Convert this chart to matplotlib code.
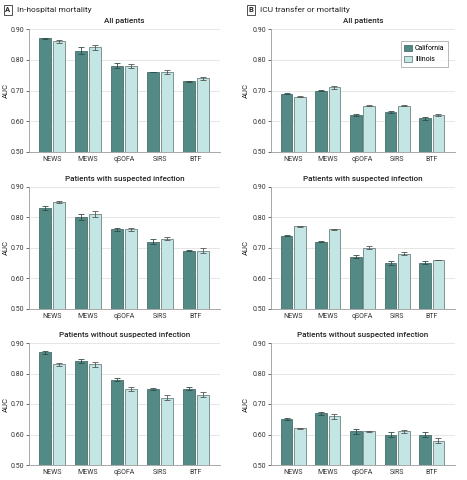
import matplotlib
matplotlib.use("Agg")
import matplotlib.pyplot as plt
import numpy as np

plt.rcParams['font.family'] = ['Roboto', 'DejaVu Sans']

categories = ["NEWS", "MEWS", "qSOFA", "SIRS", "BTF"]
series_names = ["California", "Illinois"]

# Panel A: In-hospital mortality
a_all_cal = [0.87, 0.83, 0.78, 0.76, 0.73]
a_all_ill = [0.86, 0.84, 0.78, 0.76, 0.74]
a_all_cal_err = [0.002, 0.010, 0.008, 0.001, 0.001]
a_all_ill_err = [0.005, 0.008, 0.006, 0.006, 0.005]

a_inf_cal = [0.83, 0.80, 0.76, 0.72, 0.69]
a_inf_ill = [0.85, 0.81, 0.76, 0.73, 0.69]
a_inf_cal_err = [0.008, 0.010, 0.006, 0.008, 0.001]
a_inf_ill_err = [0.004, 0.010, 0.006, 0.004, 0.008]

a_noinf_cal = [0.87, 0.84, 0.78, 0.75, 0.75]
a_noinf_ill = [0.83, 0.83, 0.75, 0.72, 0.73]
a_noinf_cal_err = [0.005, 0.006, 0.004, 0.004, 0.005]
a_noinf_ill_err = [0.006, 0.008, 0.006, 0.008, 0.008]

# Panel B: ICU transfer or mortality
b_all_cal = [0.69, 0.70, 0.62, 0.63, 0.61]
b_all_ill = [0.68, 0.71, 0.65, 0.65, 0.62]
b_all_cal_err = [0.002, 0.002, 0.002, 0.002, 0.005]
b_all_ill_err = [0.001, 0.005, 0.002, 0.002, 0.002]

b_inf_cal = [0.74, 0.72, 0.67, 0.65, 0.65]
b_inf_ill = [0.77, 0.76, 0.70, 0.68, 0.66]
b_inf_cal_err = [0.001, 0.001, 0.005, 0.008, 0.005]
b_inf_ill_err = [0.002, 0.002, 0.005, 0.005, 0.001]

b_noinf_cal = [0.65, 0.67, 0.61, 0.60, 0.60]
b_noinf_ill = [0.62, 0.66, 0.61, 0.61, 0.58]
b_noinf_cal_err = [0.004, 0.005, 0.008, 0.008, 0.008]
b_noinf_ill_err = [0.001, 0.008, 0.002, 0.006, 0.008]

subtitles = ["All patients", "Patients with suspected infection",
             "Patients without suspected infection"]
yticks = [0.50, 0.60, 0.70, 0.80, 0.90]
ytick_labels = ["0.50", "0.60", "0.70", "0.80", "0.90"]

panels = {
    "A": [(a_all_cal, a_all_ill, a_all_cal_err, a_all_ill_err),
          (a_inf_cal, a_inf_ill, a_inf_cal_err, a_inf_ill_err),
          (a_noinf_cal, a_noinf_ill, a_noinf_cal_err, a_noinf_ill_err)],
    "B": [(b_all_cal, b_all_ill, b_all_cal_err, b_all_ill_err),
          (b_inf_cal, b_inf_ill, b_inf_cal_err, b_inf_ill_err),
          (b_noinf_cal, b_noinf_ill, b_noinf_cal_err, b_noinf_ill_err)],
}

c_dark = "#548a85"
c_light = "#c3e5e4"
edge = "#6e8583"
spine_c = "#9a9a9a"

fig = plt.figure(figsize=(4.67, 4.8), dpi=100)

col_x = {"A": (29 / 467, 191 / 467), "B": (271 / 467, 184 / 467)}
label_x = {"A": (9 - 29) / 191, "B": (249 - 271) / 184}
row_tb = [(29, 152), (186.7, 308.7), (343, 465)]

x = np.arange(len(categories))
w = 0.335
off = 0.19

for key in ["A", "B"]:
    x0, wd = col_x[key]
    for r, (top, bot) in enumerate(row_tb):
        ax = fig.add_axes([x0, 1 - bot / 480, wd, (bot - top) / 480])
        cal, ill, ce, ie = panels[key][r]
        ax.set_axisbelow(True)
        ax.yaxis.grid(True, color="#e6e6e6", linewidth=0.7)
        ax.bar(x - off, cal, w, bottom=0, color=c_dark, edgecolor="#4a6f6b",
               linewidth=0.6, label=series_names[0])
        ax.bar(x + off, ill, w, bottom=0, color=c_light, edgecolor=edge,
               linewidth=0.6, label=series_names[1])
        ax.errorbar(x - off, cal, yerr=ce, fmt="none", ecolor="#2f4d4a",
                    elinewidth=0.6, capsize=2.2, capthick=0.6)
        ax.errorbar(x + off, ill, yerr=ie, fmt="none", ecolor="#555555",
                    elinewidth=0.6, capsize=2.2, capthick=0.6)
        ax.set_ylim(0.5, 0.9)
        ax.set_xlim(-0.64, 4.67)
        ax.set_yticks(yticks)
        ax.set_yticklabels(ytick_labels)
        ax.set_xticks(x)
        ax.set_xticklabels(categories)
        ax.tick_params(axis="both", labelsize=5, colors="#333333",
                       length=2, width=0.5, pad=1.5)
        ax.tick_params(axis="x", length=0, pad=3)
        for s in ["top", "right"]:
            ax.spines[s].set_visible(False)
        for s in ["left", "bottom"]:
            ax.spines[s].set_color(spine_c)
            ax.spines[s].set_linewidth(0.6)
        ax.set_ylabel("AUC", fontsize=5.5, color="#222222")
        ax.yaxis.set_label_coords(label_x[key], 0.5)
        ax.set_title(subtitles[r], fontsize=5.8, color="#222222", pad=4,
                     fontweight="medium")
        if key == "B" and r == 0:
            leg = ax.legend(loc="upper right", bbox_to_anchor=(0.98, 0.93),
                            fontsize=5, frameon=True, fancybox=False,
                            handlelength=1.1, handleheight=1.1,
                            borderpad=0.5, labelspacing=0.5,
                            handletextpad=0.4)
            leg.get_frame().set_edgecolor("#999999")
            leg.get_frame().set_linewidth(0.6)

fig.text(8 / 467, 1 - 10 / 480, "A", fontsize=5.5, ha="center", va="center",
         fontweight="bold", color="#222222",
         bbox=dict(boxstyle="square,pad=0.25", fc="white", ec="#333333", lw=0.6))
fig.text(17 / 467, 1 - 10 / 480, "In-hospital mortality", fontsize=6,
         ha="left", va="center", color="#222222")
fig.text(251 / 467, 1 - 10 / 480, "B", fontsize=5.5, ha="center", va="center",
         fontweight="bold", color="#222222",
         bbox=dict(boxstyle="square,pad=0.25", fc="white", ec="#333333", lw=0.6))
fig.text(260 / 467, 1 - 10 / 480, "ICU transfer or mortality", fontsize=6,
         ha="left", va="center", color="#222222")

fig.savefig("out.png", dpi=100, facecolor="white")
